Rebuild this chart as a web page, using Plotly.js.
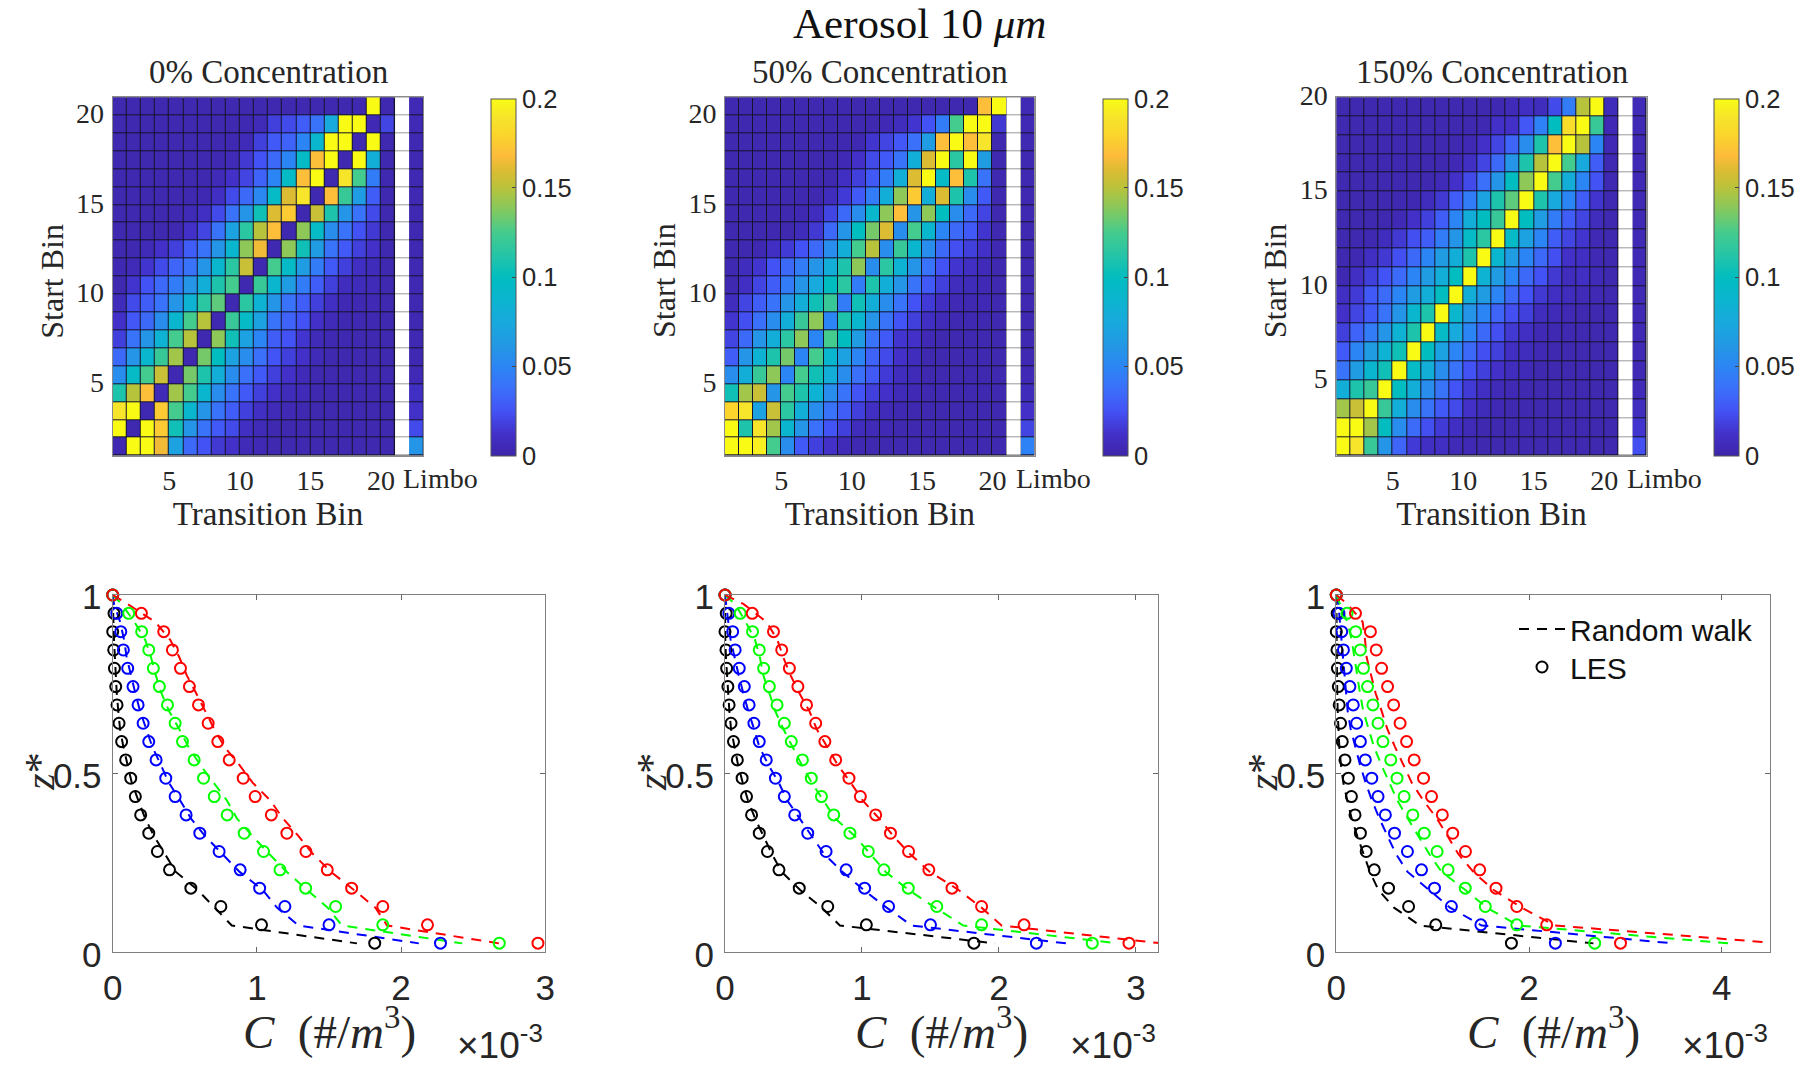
<!DOCTYPE html>
<html>
<head>
<meta charset="utf-8">
<script src="https://cdn.plot.ly/plotly-3.0.1.min.js"></script>
<style>html,body{margin:0;padding:0;background:#fff}#chart{width:1800px;height:1065px}</style>
</head>
<body>
<div id="chart"></div>
<script>
// Heatmap rows are written top row first (highest start bin); each has 20 bins, the blank bin, and Limbo.
const heat0 = [
[.003,.003,.003,.003,.003,.003,.003,.003,.003,.003,.003,.003,.003,.003,.003,.003,.003,.003,.2,.003,null,.005],
[.003,.003,.003,.003,.003,.003,.003,.003,.003,.004,.006,.018,.022,.03,.04,.075,.2,.2,.005,.02,null,.005],
[.003,.003,.003,.003,.003,.003,.003,.003,.004,.006,.018,.028,.032,.05,.09,.2,.2,.003,.2,.003,null,.004],
[.003,.003,.003,.003,.003,.003,.003,.004,.006,.015,.025,.035,.05,.095,.17,.2,.003,.2,.08,.003,null,.004],
[.003,.003,.003,.003,.003,.003,.003,.006,.012,.02,.032,.05,.095,.17,.2,.003,.19,.125,.045,.003,null,.004],
[.003,.003,.003,.003,.003,.003,.004,.01,.022,.035,.052,.095,.16,.19,.003,.17,.12,.065,.03,.003,null,.004],
[.003,.003,.003,.003,.003,.006,.01,.022,.04,.06,.105,.16,.175,.003,.155,.11,.06,.04,.022,.003,null,.004],
[.003,.003,.003,.003,.003,.012,.02,.04,.07,.115,.15,.17,.003,.14,.095,.055,.04,.025,.015,.003,null,.004],
[.003,.003,.006,.012,.018,.03,.04,.06,.09,.14,.165,.003,.14,.105,.065,.04,.028,.018,.012,.003,null,.004],
[.004,.006,.014,.022,.033,.04,.06,.09,.115,.155,.003,.125,.095,.065,.045,.028,.018,.01,.007,.003,null,.004],
[.003,.014,.025,.035,.045,.06,.08,.11,.125,.003,.12,.09,.065,.045,.03,.018,.008,.007,.006,.003,null,.004],
[.007,.022,.03,.04,.06,.085,.115,.13,.003,.115,.085,.06,.04,.03,.018,.01,.005,.004,.005,.003,null,.004],
[.012,.027,.035,.055,.09,.125,.15,.004,.12,.095,.07,.04,.032,.025,.012,.006,.004,.004,.004,.003,null,.004],
[.018,.04,.06,.085,.125,.15,.003,.14,.105,.07,.05,.03,.025,.014,.006,.004,.004,.003,.003,.003,null,.004],
[.035,.06,.09,.12,.145,.003,.135,.10,.07,.055,.038,.026,.018,.012,.006,.003,.003,.003,.003,.003,null,.004],
[.055,.095,.125,.155,.004,.135,.11,.08,.055,.038,.028,.018,.012,.006,.003,.003,.003,.003,.003,.003,null,.005],
[.11,.15,.17,.006,.145,.125,.09,.055,.04,.028,.018,.012,.007,.006,.003,.003,.003,.003,.003,.003,null,.01],
[.19,.2,.004,.175,.125,.09,.06,.04,.03,.018,.01,.006,.005,.003,.003,.003,.003,.003,.003,.003,null,.012],
[.2,.003,.2,.175,.105,.06,.04,.028,.022,.01,.006,.003,.003,.003,.003,.003,.003,.003,.003,.003,null,.022],
[.004,.2,.2,.165,.07,.035,.025,.015,.012,.006,.005,.003,.003,.003,.003,.003,.003,.003,.003,.003,null,.06]
];
const heat50 = [
[.003,.003,.003,.003,.003,.003,.003,.003,.003,.003,.003,.003,.003,.003,.003,.003,.003,.003,.17,.2,null,.005],
[.003,.003,.003,.003,.003,.003,.003,.003,.003,.003,.003,.005,.008,.014,.025,.045,.125,.2,.2,.015,null,.005],
[.003,.003,.003,.003,.003,.003,.003,.003,.003,.004,.014,.02,.027,.038,.065,.17,.2,.17,.19,.003,null,.004],
[.003,.003,.003,.003,.003,.003,.003,.003,.005,.012,.022,.028,.04,.08,.16,.2,.115,.2,.065,.003,null,.004],
[.003,.003,.003,.003,.003,.003,.003,.003,.01,.018,.028,.045,.08,.16,.2,.095,.17,.11,.04,.003,null,.004],
[.003,.003,.003,.003,.003,.003,.003,.008,.016,.028,.045,.08,.14,.175,.08,.16,.11,.055,.028,.003,null,.004],
[.003,.003,.003,.003,.003,.004,.008,.02,.035,.055,.09,.14,.17,.06,.14,.10,.055,.035,.02,.003,null,.004],
[.003,.003,.003,.003,.003,.007,.015,.035,.06,.10,.135,.16,.055,.125,.09,.05,.035,.028,.014,.003,null,.004],
[.003,.003,.004,.01,.016,.025,.035,.055,.08,.125,.15,.055,.12,.09,.055,.035,.024,.018,.012,.004,null,.004],
[.004,.008,.014,.025,.035,.045,.06,.08,.11,.14,.055,.115,.085,.06,.04,.025,.014,.01,.006,.003,null,.004],
[.003,.01,.02,.03,.045,.06,.075,.10,.115,.045,.11,.08,.06,.04,.028,.018,.008,.007,.005,.003,null,.004],
[.008,.02,.03,.04,.06,.08,.105,.12,.045,.105,.08,.055,.04,.025,.016,.009,.005,.004,.005,.003,null,.004],
[.014,.024,.038,.055,.08,.12,.14,.05,.11,.09,.06,.04,.026,.018,.01,.006,.004,.004,.003,.003,null,.004],
[.02,.035,.06,.08,.115,.14,.05,.125,.10,.065,.04,.028,.014,.012,.005,.003,.003,.003,.003,.003,null,.004],
[.03,.06,.085,.11,.135,.05,.125,.09,.07,.05,.032,.022,.012,.008,.003,.003,.003,.003,.003,.003,null,.004],
[.055,.08,.12,.14,.05,.125,.105,.08,.055,.038,.028,.016,.008,.006,.003,.003,.003,.003,.003,.003,null,.005],
[.105,.145,.155,.06,.125,.11,.085,.055,.04,.026,.018,.012,.006,.005,.003,.003,.003,.003,.003,.003,null,.007],
[.18,.19,.07,.155,.115,.08,.055,.04,.03,.018,.01,.006,.004,.003,.003,.003,.003,.003,.003,.003,null,.012],
[.2,.11,.19,.145,.09,.06,.038,.026,.018,.008,.006,.005,.003,.003,.003,.003,.003,.003,.003,.003,null,.02],
[.2,.2,.195,.125,.055,.028,.018,.012,.006,.004,.003,.003,.003,.003,.003,.003,.003,.003,.003,.003,null,.048]
];
const heat150 = [
[.003,.003,.003,.003,.003,.003,.003,.003,.003,.003,.003,.004,.006,.01,.008,.022,.045,.15,.2,.007,null,.006],
[.003,.003,.003,.003,.003,.003,.003,.003,.003,.003,.004,.012,.012,.027,.048,.10,.185,.2,.12,.005,null,.005],
[.003,.003,.003,.003,.003,.003,.003,.003,.003,.005,.012,.02,.033,.055,.11,.17,.2,.15,.05,.005,null,.005],
[.003,.003,.003,.003,.003,.003,.003,.003,.005,.01,.02,.035,.06,.11,.15,.2,.125,.075,.03,.004,null,.005],
[.003,.003,.003,.003,.003,.003,.003,.006,.012,.022,.038,.06,.10,.14,.2,.125,.08,.05,.025,.004,null,.005],
[.003,.003,.003,.003,.003,.004,.008,.015,.03,.045,.07,.11,.13,.2,.11,.075,.05,.03,.014,.004,null,.005],
[.003,.003,.003,.003,.005,.012,.018,.03,.05,.08,.10,.12,.2,.10,.065,.045,.03,.02,.008,.003,null,.005],
[.003,.003,.004,.008,.015,.024,.03,.045,.06,.095,.115,.2,.095,.07,.05,.03,.02,.014,.005,.003,null,.005],
[.003,.004,.01,.015,.024,.035,.05,.065,.08,.11,.2,.09,.065,.05,.035,.024,.012,.01,.005,.003,null,.005],
[.004,.01,.018,.026,.036,.05,.065,.08,.10,.2,.085,.065,.05,.035,.025,.015,.008,.01,.006,.003,null,.005],
[.01,.016,.028,.036,.05,.065,.08,.10,.2,.08,.065,.05,.035,.025,.015,.01,.008,.006,.005,.003,null,.005],
[.012,.02,.028,.04,.06,.09,.11,.2,.09,.06,.05,.033,.024,.018,.008,.006,.005,.003,.003,.003,null,.005],
[.018,.032,.045,.06,.085,.11,.2,.095,.075,.05,.035,.024,.015,.01,.005,.004,.004,.003,.003,.003,null,.005],
[.028,.05,.065,.085,.105,.2,.10,.07,.05,.035,.024,.018,.01,.008,.005,.003,.003,.003,.003,.003,null,.005],
[.04,.065,.09,.105,.2,.095,.08,.055,.04,.025,.018,.012,.008,.006,.003,.003,.003,.003,.003,.003,null,.005],
[.08,.11,.12,.2,.10,.08,.055,.04,.026,.016,.01,.006,.005,.003,.003,.003,.003,.003,.003,.003,null,.006],
[.145,.155,.2,.12,.08,.055,.04,.028,.022,.012,.007,.005,.003,.003,.003,.003,.003,.003,.003,.003,null,.008],
[.2,.2,.145,.10,.055,.036,.024,.016,.01,.006,.003,.003,.003,.003,.003,.003,.003,.003,.003,.003,null,.014],
[.2,.19,.12,.06,.033,.016,.01,.01,.006,.005,.003,.003,.003,.003,.003,.003,.003,.003,.003,.003,null,.024]
];
const xEdges = [1,2,3,4,5,6,7,8,9,10,11,12,13,14,15,16,17,18,19,20,21,22,23];
const yEdges20 = [1,2,3,4,5,6,7,8,9,10,11,12,13,14,15,16,17,18,19,20,21];
const yEdges19 = [1,2,3,4,5,6,7,8,9,10,11,12,13,14,15,16,17,18,19,20];
const binTicks = [5,10,15,20];
const scaleTicks = [0,.05,.1,.15,.2];
const scaleTickText = ['0','0.05','0.1','0.15','0.2'];
const parula = [[0,'#3e26a8'],[.06,'#4230c8'],[.125,'#4352f4'],[.19,'#3b70fb'],[.25,'#2c85f4'],[.31,'#2398e4'],[.375,'#18a9dd'],[.44,'#0bb5cf'],[.5,'#02bdc0'],[.56,'#24c4a8'],[.625,'#44cb8e'],[.69,'#84c95e'],[.75,'#b8c33c'],[.8,'#dcbc32'],[.84,'#fdbb3c'],[.9,'#fbd52c'],[.95,'#f6e52a'],[1,'#f9fb15']];

const lesZ = [1,.9487,.8974,.8462,.7949,.7436,.6923,.641,.5897,.5385,.4872,.4359,.3846,.3333,.2821,.2308,.1795,.1282,.0769,.0256];
const lesBlack = [0,.009,0,.007,.012,.021,.030,.044,.062,.090,.125,.157,.194,.250,.310,.394,.542,.750,1.032,1.817];
const lesBlue = [0,.028,.056,.074,.104,.141,.176,.211,.25,.301,.368,.433,.509,.604,.738,.884,1.019,1.194,1.5,2.273];
const lesGreen = [0,.111,.201,.25,.282,.324,.380,.433,.484,.565,.630,.704,.794,.912,1.046,1.160,1.338,1.546,1.873,2.681];
const lesRed = [0,.199,.354,.414,.470,.532,.595,.662,.729,.808,.905,.988,1.100,1.208,1.340,1.488,1.657,1.873,2.183,2.949];

const rwZ = [1,.975,.925,.875,.825,.775,.725,.675,.625,.575,.525,.475,.425,.375,.325,.275,.225,.175,.125,.075,.025];
const rw0Black = [0,0,.005,.009,.014,.019,.028,.039,.051,.074,.102,.132,.178,.225,.287,.363,.438,.588,.704,.826,1.694];
const rw0Blue = [0,.009,.051,.079,.097,.125,.157,.190,.231,.275,.333,.389,.468,.542,.641,.761,.880,1.039,1.139,1.289,2.123];
const rw0Green = [0,.062,.150,.225,.266,.299,.338,.391,.461,.525,.606,.699,.792,.861,.970,1.086,1.208,1.347,1.491,1.590,2.424];
const rw0Red = [0,.102,.294,.398,.463,.514,.579,.641,.704,.775,.877,.970,1.093,1.18,1.289,1.389,1.514,1.671,1.822,1.903,2.678];
const rw50Black = [0,0,0,.002,.007,.015,.022,.032,.044,.068,.095,.129,.168,.219,.280,.343,.414,.547,.706,.839,1.971];
const rw50Blue = [0,.007,.024,.041,.068,.100,.134,.170,.212,.251,.316,.392,.455,.543,.633,.723,.859,1.010,1.180,1.363,2.494];
const rw50Green = [0,.073,.151,.219,.255,.280,.324,.367,.426,.491,.560,.633,.718,.803,.949,1.063,1.173,1.338,1.533,1.740,2.871];
const rw50Red = [0,.134,.302,.382,.426,.479,.543,.616,.669,.747,.822,.917,1.005,1.124,1.229,1.350,1.496,1.703,1.873,2.019,3.187];
const rw150Black = [0,.003,.003,.003,.003,.003,.010,.014,.021,.031,.048,.073,.114,.159,.218,.280,.349,.436,.599,.869,2.668];
const rw150Blue = [0,.021,.038,.055,.073,.087,.100,.118,.149,.194,.246,.304,.370,.446,.536,.619,.740,.955,1.180,1.509,3.498];
const rw150Green = [0,.038,.114,.159,.187,.211,.246,.280,.332,.391,.467,.550,.633,.740,.851,.965,1.093,1.336,1.561,1.889,4.069];
const rw150Red = [0,.114,.273,.298,.315,.360,.408,.471,.529,.609,.696,.782,.903,1.042,1.156,1.266,1.422,1.630,1.924,2.270,4.6];

const heatTitles = ['0% Concentration','50% Concentration','150% Concentration'];
const xRanges = [3,3.163,4.5];
const xTicks = [[0,1,2,3],[0,1,2,3],[0,2,4]];

const W = 1800, H = 1065;
const fx = p => p / W, fy = p => 1 - p / H;
const serif = 'Liberation Serif', sans = 'Liberation Sans', ink = '#262626';
const lefts = [112.7,725,1336.3];
const heatRights = [423.3,1034.7,1646.7];
const lineRights = [545.3,1158.3,1770];
const cbLefts = [490.7,1102.5,1714];

const data = [], annotations = [], shapes = [];
const legendStyle = {xanchor:'left',yanchor:'middle',font:{family:sans,size:30,color:'#111'},bgcolor:'rgba(0,0,0,0)',itemwidth:46,borderwidth:0};
const layout = {width:W,height:H,margin:{l:0,r:0,t:0,b:0},paper_bgcolor:'#fff',plot_bgcolor:'#fff',autosize:false,
  showlegend:true,
  legend:Object.assign({x:fx(1514),y:fy(629)},legendStyle),
  legend2:Object.assign({x:fx(1514),y:fy(667)},legendStyle),
  annotations,shapes};

const heats = [heat0,heat50,heat150];
const yEdgeSets = [yEdges20,yEdges20,yEdges19];
heats.forEach((rows,i)=>{
  const xn='x'+(i+1), yn='y'+(i+1);
  const ya = yEdgeSets[i];
  layout['xaxis'+(i+1)] = {domain:[fx(lefts[i]),fx(heatRights[i])],range:[xEdges[0],xEdges[22]],anchor:yn,tickmode:'array',tickvals:binTicks,
    ticks:'',showgrid:false,zeroline:false,showline:true,mirror:true,linecolor:'#8a8a8a',linewidth:1,
    tickfont:{family:serif,size:28,color:ink},title:{text:'Transition Bin',font:{family:serif,size:33,color:ink},standoff:3}};
  layout['yaxis'+(i+1)] = {domain:[fy(455.7),fy(97.3)],range:[ya[0],ya[ya.length-1]],anchor:xn,tickmode:'array',tickvals:binTicks,ticklabelshift:-2,ticklabelstandoff:2,
    ticks:'',showgrid:false,zeroline:false,showline:true,mirror:true,linecolor:'#8a8a8a',linewidth:1,
    tickfont:{family:serif,size:28,color:ink}};
  shapes.push({type:'rect',layer:'below',xref:xn,yref:yn,x0:xEdges[0],x1:xEdges[22],y0:ya[0],y1:ya[ya.length-1],fillcolor:'#14142a',line:{width:0}});
  shapes.push({type:'rect',layer:'below',xref:xn,yref:yn,x0:xEdges[20],x1:xEdges[21],y0:ya[0],y1:ya[ya.length-1],fillcolor:'#9a9a9a',line:{width:0}});
  data.push({type:'heatmap',xaxis:xn,yaxis:yn,x:xEdges,y:ya,z:rows.slice().reverse(),zmin:0,zmax:.2,zauto:false,colorscale:parula,xgap:1,ygap:1,hoverongaps:false,showlegend:false,
    colorbar:{x:fx(cbLefts[i]),xanchor:'left',xpad:0,ypad:0,thickness:25.3,thicknessmode:'pixels',y:fy(455.7),yanchor:'bottom',len:(455.7-98.3)/H,lenmode:'fraction',
      tickmode:'array',tickvals:scaleTicks,ticktext:scaleTickText,ticks:'inside',ticklen:4,tickwidth:1,tickcolor:'#444',outlinecolor:'#555',outlinewidth:1,
      tickfont:{family:sans,size:25.5,color:ink}}});
  data.push({type:'heatmap',xaxis:xn,yaxis:yn,x:[xEdges[20],xEdges[21]],y:ya,z:ya.slice(1).map(()=>[1]),zmin:0,zmax:1,colorscale:[[0,'#fff'],[1,'#fff']],showscale:false,xgap:0,ygap:1,showlegend:false,hoverinfo:'skip'});
  annotations.push({xref:'paper',yref:'paper',x:fx((lefts[i]+heatRights[i])/2),y:fy(72),text:heatTitles[i],showarrow:false,xanchor:'center',yanchor:'middle',font:{family:serif,size:33,color:ink}});
  annotations.push({xref:'paper',yref:'paper',x:fx(lefts[i]+328),y:fy(479),text:'Limbo',showarrow:false,xanchor:'center',yanchor:'middle',font:{family:serif,size:28,color:ink}});
  annotations.push({xref:'paper',yref:'paper',x:fx(lefts[i]-61),y:fy(281),text:'Start Bin',textangle:-90,showarrow:false,xanchor:'center',yanchor:'middle',font:{family:serif,size:32,color:ink}});
  annotations.push({xref:'paper',yref:'paper',x:fx(lefts[i]-73),y:fy(772),text:'<i>z</i>*',textangle:-90,showarrow:false,xanchor:'center',yanchor:'middle',font:{family:serif,size:42,color:ink}});
  annotations.push({xref:'paper',yref:'paper',x:fx((lefts[i]+lineRights[i])/2),y:fy(1028),text:'<i>C</i>  (#/<i>m</i><sup>3</sup>)',showarrow:false,xanchor:'center',yanchor:'middle',font:{family:serif,size:47,color:ink}});
  annotations.push({xref:'paper',yref:'paper',x:fx(lineRights[i]),y:fy(1068),text:'×10<sup>-3</sup>',showarrow:false,xanchor:'right',yanchor:'bottom',font:{family:sans,size:37,color:ink}});
});
annotations.push({xref:'paper',yref:'paper',x:fx(919),y:fy(23),text:'Aerosol 10 <i>μm</i>',showarrow:false,xanchor:'center',yanchor:'middle',font:{family:serif,size:43,color:'#111'}});

const rwSets = [
  [rw0Black,rw0Blue,rw0Green,rw0Red],
  [rw50Black,rw50Blue,rw50Green,rw50Red],
  [rw150Black,rw150Blue,rw150Green,rw150Red]];
const lesSets = [lesBlack,lesBlue,lesGreen,lesRed];
const colors = ['#000000','#0000ff','#00ff00','#ff0000'];
rwSets.forEach((set,i)=>{
  const k=i+4, xn='x'+k, yn='y'+k;
  layout['xaxis'+k] = {domain:[fx(lefts[i]),fx(lineRights[i])],range:[0,xRanges[i]],anchor:yn,tickmode:'array',tickvals:xTicks[i],ticklabelstandoff:5,
    ticks:'inside',ticklen:5,tickwidth:1,tickcolor:'#666',showgrid:false,zeroline:false,showline:true,mirror:'ticks',linecolor:'#7f7f7f',linewidth:1.3,
    tickfont:{family:sans,size:35,color:ink}};
  layout['yaxis'+k] = {domain:[fy(952.3),fy(595)],range:[0,1],anchor:xn,tickmode:'array',tickvals:[0,.5,1],ticktext:['0','0.5','1'],ticklabelstandoff:3,ticklabelshift:2,
    ticks:'inside',ticklen:5,tickwidth:1,tickcolor:'#666',showgrid:false,zeroline:false,showline:true,mirror:'ticks',linecolor:'#7f7f7f',linewidth:1.3,
    tickfont:{family:sans,size:35,color:ink}};
  set.forEach((xs,c)=>{
    const legendOn = i===2 && c===0;
    data.push({type:'scatter',mode:'lines',xaxis:xn,yaxis:yn,x:xs,y:rwZ,name:'Random walk',showlegend:legendOn,legend:'legend',
      line:{color:colors[c],width:2,dash:'10px,8px'},hoverinfo:'skip'});
  });
  lesSets.forEach((xs,c)=>{
    const legendOn = i===2 && c===0;
    data.push({type:'scatter',mode:'markers',xaxis:xn,yaxis:yn,x:xs,y:lesZ,name:'LES',showlegend:legendOn,legend:'legend2',cliponaxis:false,
      marker:{symbol:'circle-open',size:11,color:colors[c],line:{color:colors[c],width:2}},hoverinfo:'skip'});
  });
});
Plotly.newPlot('chart',data,layout,{displayModeBar:false,responsive:false});
</script>
</body>
</html>
